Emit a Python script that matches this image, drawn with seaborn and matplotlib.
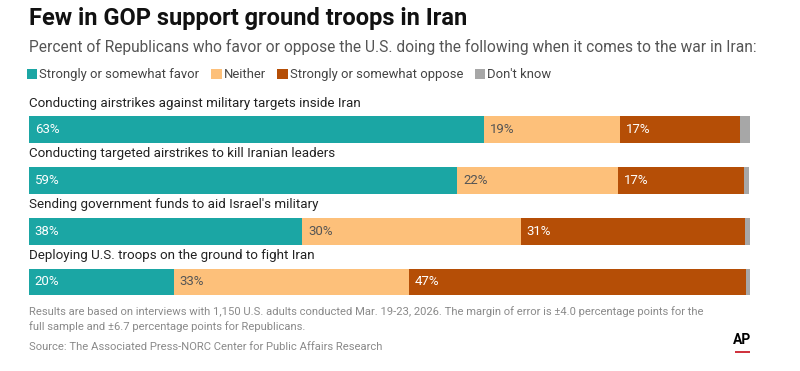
import numpy as np
import pandas as pd
import seaborn as sns
import matplotlib.pyplot as plt
from matplotlib.patches import Patch, Rectangle

# data
items = [
    "Conducting airstrikes against military targets inside Iran",
    "Conducting targeted airstrikes to kill Iranian leaders",
    "Sending government funds to aid Israel's military",
    "Deploying U.S. troops on the ground to fight Iran",
]
favor = [63.1, 59.4, 37.9, 20.1]
neither = [18.9, 22.3, 30.3, 32.6]
oppose = [16.6, 17.5, 31.1, 46.7]
dont_know = [1.4, 0.7, 0.7, 0.6]
favor_labels = ["63%", "59%", "38%", "20%"]
neither_labels = ["19%", "22%", "30%", "33%"]
oppose_labels = ["17%", "17%", "31%", "47%"]

series = ["Strongly or somewhat favor", "Neither", "Strongly or somewhat oppose", "Don't know"]
colors = ["#1ba6a4", "#fdc07a", "#b54e06", "#a7a7a7"]

sns.set_theme(style="white")
FONT = ["Roboto", "DejaVu Sans"]
plt.rcParams["font.family"] = FONT

df = pd.DataFrame({
    "item": items,
    "favor": favor,
    "neither": neither,
    "oppose": oppose,
    "dk": dont_know,
})
df["c1"] = df["favor"]
df["c2"] = df["c1"] + df["neither"]
df["c3"] = df["c2"] + df["oppose"]
df["c4"] = df["c3"] + df["dk"]

fig = plt.figure(figsize=(8, 3.71), dpi=100)
ax = fig.add_axes([29 / 800, 0.1714, 721 / 800, 0.6165])

# stacked bars: draw the longest cumulative first
for col, c in zip(["c4", "c3", "c2", "c1"], colors[::-1]):
    sns.barplot(data=df, x=col, y="item", color=c, orient="h",
                width=0.53, ax=ax, saturation=1, linewidth=0)

ax.set_xlim(0, 100)
ax.set_ylim(3.5, -1.0)
ax.axis("off")

for i in range(len(items)):
    ax.text(0, i - 0.52, items[i], ha="left", va="center", fontsize=9.6, color="#222222")
    ax.text(0.8, i, favor_labels[i], ha="left", va="center", fontsize=9.5, color="white")
    ax.text(df["c1"][i] + 0.8, i, neither_labels[i], ha="left", va="center",
            fontsize=9.5, color="#555555")
    ax.text(df["c2"][i] + 0.8, i, oppose_labels[i], ha="left", va="center",
            fontsize=9.5, color="white")

fig.text(29 / 800, 0.949, "Few in GOP support ground troops in Iran",
         fontsize=17, fontweight="bold", color="#111111", ha="left", va="center")
fig.text(29 / 800, 0.873,
         "Percent of Republicans who favor or oppose the U.S. doing the following when it comes to the war in Iran:",
         fontsize=11.2, color="#555555", ha="left", va="center")

handles = [Patch(facecolor=c, edgecolor="none", label=s) for s, c in zip(series, colors)]
leg = fig.legend(handles=handles, ncol=4, loc="center left",
                 bbox_to_anchor=(27 / 800, 0.798), frameon=False,
                 handlelength=0.8, handleheight=0.8, handletextpad=0.15,
                 columnspacing=0.9, borderaxespad=0, borderpad=0, fontsize=9.4)
for t in leg.get_texts():
    t.set_color("#444444")

fig.text(29 / 800, 0.159,
         "Results are based on interviews with 1,150 U.S. adults conducted Mar. 19-23, 2026. "
         "The margin of error is \u00b14.0 percentage points for the",
         fontsize=8.1, color="#8a8a8a", ha="left", va="center")
fig.text(29 / 800, 0.119,
         "full sample and \u00b16.7 percentage points for Republicans.",
         fontsize=8.1, color="#8a8a8a", ha="left", va="center")
fig.text(29 / 800, 0.065,
         "Source: The Associated Press-NORC Center for Public Affairs Research",
         fontsize=8.1, color="#8a8a8a", ha="left", va="center")

# AP logo
fig.text(742 / 800, 1 - 340 / 371, "AP", fontsize=10, fontweight="bold",
         color="black", ha="center", va="center")
fig.patches.append(Rectangle((735 / 800, 1 - 353 / 371), 15 / 800, 2 / 371,
                             transform=fig.transFigure, facecolor="#d0343f",
                             edgecolor="none"))

fig.savefig("out.png", dpi=100, facecolor="white")
